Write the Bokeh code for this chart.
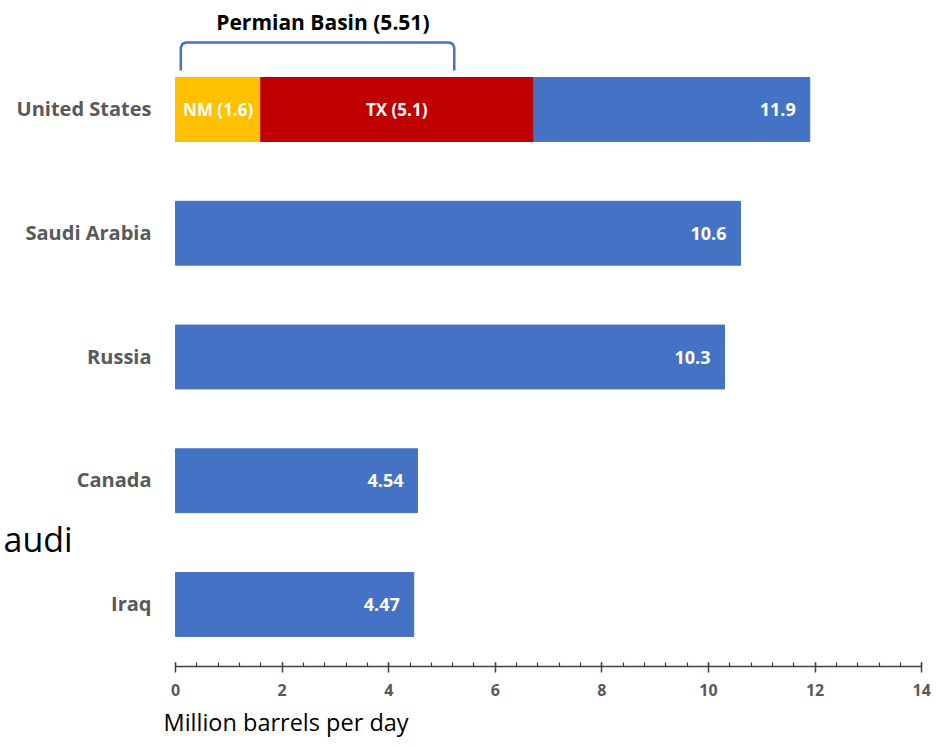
from bokeh.plotting import figure
from bokeh.models import Range1d, FixedTicker, Title, ColumnDataSource
from bokeh.core.properties import value
from bokeh.embed import file_html
from bokeh.resources import INLINE

# ---- data ----
countries = ["United States", "Saudi Arabia", "Russia", "Canada", "Iraq"]
totals = [11.9, 10.6, 10.3, 4.54, 4.47]
total_labels = ["11.9", "10.6", "10.3", "4.54", "4.47"]
us_states = ["NM", "TX"]
us_state_values = [1.6, 5.1]
permian_label = "Permian Basin (5.51)"
bracket_span = [0.1, 5.23]
x_ticks = [0, 2, 4, 6, 8, 10, 12, 14]
x_minor_ticks = [round(0.4 * i, 1) for i in range(36)]
x_title = "Million barrels per day"
stray_text = "audi"

BLUE = "#4472C4"
RED = "#C00000"
GOLD = "#FFC000"
GRAY = "#595959"
AXIS = "#404040"
FONT = "Open Sans"

n = len(countries)
ypos = [n - 1 - i for i in range(n)]  # United States on top

W, H = 936, 746
SX = 53.3      # px per x unit
SY = 123.75    # px per y unit
X0 = 175       # pixel of x = 0
FRAME_H = 666  # pixel of the x axis line
x_start = -X0 / SX
x_end = (W - X0) / SX
y_start = -0.501
y_end = y_start + FRAME_H / SY


def ypix(py):
    """y data value at a given pixel row (for annotation placement)"""
    return y_end - py / SY


p = figure(width=W, height=H, output_backend="svg", toolbar_location=None,
           x_range=Range1d(x_start, x_end), y_range=Range1d(y_start, y_end),
           y_axis_location=None,
           min_border_left=0, min_border_right=0, min_border_top=0,
           min_border_bottom=H - FRAME_H, outline_line_color=None)
p.grid.visible = False
p.background_fill_color = "white"
p.border_fill_color = "white"

# bars (blue totals)
src = ColumnDataSource(dict(y=ypos, right=totals, lab=total_labels, name=countries))
p.hbar(y="y", left=0, right="right", height=0.516, source=src,
       fill_color=BLUE, line_color=BLUE)

# US state segments
us_y = ypos[0]
lefts = [0, us_state_values[0]]
rights = [us_state_values[0], us_state_values[0] + us_state_values[1]]
seg = ColumnDataSource(dict(y=[us_y, us_y], left=lefts, right=rights,
                            color=[GOLD, RED],
                            mid=[(l + r) / 2 for l, r in zip(lefts, rights)],
                            lab=[f"{s} ({v})" for s, v in zip(us_states, us_state_values)]))
p.hbar(y="y", left="left", right="right", height=0.516, source=seg,
       fill_color="color", line_color="color")
p.text(x="mid", y="y", text="lab", source=seg, text_color="white",
       text_font=value(FONT), text_font_style="bold", text_font_size="17px",
       text_align="center", text_baseline="middle")

# value labels
p.text(x="right", y="y", text="lab", source=src, x_offset=-14,
       text_color="white", text_font=value(FONT), text_font_style="bold",
       text_font_size="18px", text_align="right", text_baseline="middle")

# country labels
p.text(x=0, y="y", text="name", source=src, x_offset=-24, y_offset=-1,
       text_color=GRAY, text_font=value(FONT), text_font_style="bold",
       text_font_size="20px", text_align="right", text_baseline="middle")

# bracket for the Permian Basin
y_top = ypix(42)
y_bot = ypix(70)
r = 5 / SY
rx = 5 / SX
b0, b1 = bracket_span
bx = [b0, b0, b0 + rx * 0.3, b0 + rx, b1 - rx, b1 - rx * 0.3, b1, b1]
by = [y_bot, y_top - r, y_top - r * 0.3, y_top, y_top, y_top - r * 0.3, y_top - r, y_bot]
p.line(bx, by, line_color=BLUE, line_width=2.5)

p.text(x=[(b0 + b1) / 2 + 0.1], y=[ypix(21)],
       text=[permian_label], text_color="black", text_font=value(FONT),
       text_font_style="bold", text_font_size="21px", text_align="center",
       text_baseline="alphabetic")

# stray text fragment at the left
p.text(x=[(3 - X0) / SX], y=[ypix(538)], text=[stray_text], text_color="black",
       text_font=value(FONT), text_font_size="34px", text_align="left",
       text_baseline="alphabetic")

# x axis
xa = p.xaxis[0]
xa.bounds = (x_ticks[0], x_ticks[-1])
xa.ticker = FixedTicker(ticks=x_ticks, minor_ticks=x_minor_ticks)
xa.axis_line_color = AXIS
xa.axis_line_width = 1.5
xa.major_tick_line_color = AXIS
xa.major_tick_line_width = 1.5
xa.major_tick_in = 4
xa.major_tick_out = 6
xa.minor_tick_line_color = AXIS
xa.minor_tick_line_width = 1.2
xa.minor_tick_in = 4
xa.minor_tick_out = 0
xa.major_label_text_font = FONT
xa.major_label_text_font_style = "bold"
xa.major_label_text_font_size = "16px"
xa.major_label_text_color = GRAY
xa.major_label_standoff = 11

# axis title (left aligned under the axis)
p.add_layout(Title(text=x_title, align="left", offset=163, standoff=10,
                   vertical_align="bottom",
                   text_font=FONT, text_font_size="23.5px",
                   text_font_style="normal", text_color="black"), "below")

open("out.html", "w").write(file_html(p, INLINE))
